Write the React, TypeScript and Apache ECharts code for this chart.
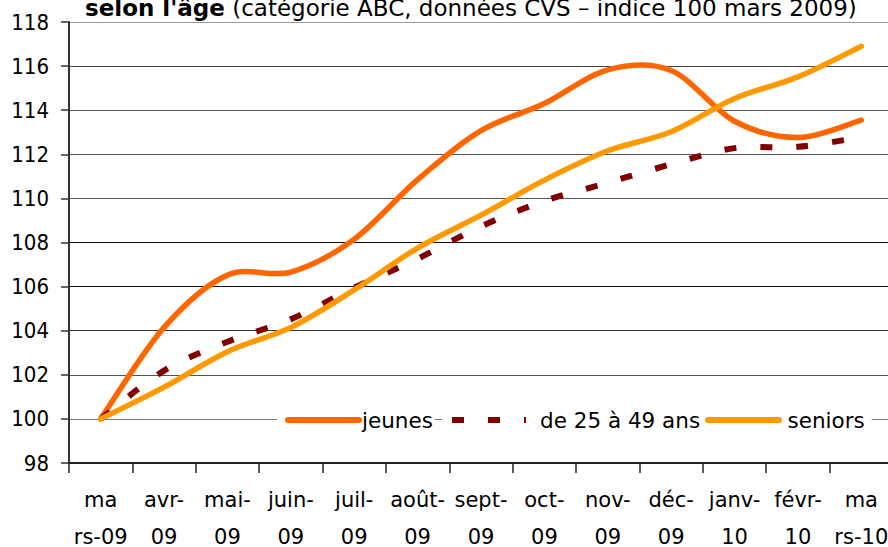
import React, { useEffect, useRef } from 'react';
import * as echarts from 'echarts';

const categories = [
  'ma\nrs-09', 'avr-\n09', 'mai-\n09', 'juin-\n09', 'juil-\n09', 'août-\n09', 'sept-\n09',
  'oct-\n09', 'nov-\n09', 'déc-\n09', 'janv-\n10', 'févr-\n10', 'ma\nrs-10',
];
const jeunes = [100, 104.15, 106.52, 106.66, 108.15, 110.85, 113.07, 114.3, 115.83, 115.8, 113.5, 112.76, 113.55];
const adultes = [100, 102.19, 103.5, 104.52, 105.95, 107.26, 108.73, 109.88, 110.71, 111.55, 112.28, 112.34, 112.78];
const seniors = [100, 101.44, 103.05, 104.15, 105.85, 107.75, 109.24, 110.83, 112.16, 113.02, 114.53, 115.51, 116.9];
const seriesNames = ['jeunes', 'de 25 à 49 ans', 'seniors'];
const yMin = 98;
const yMax = 118;
const yStep = 2;

const FONT = '"DejaVu Sans", Verdana, sans-serif';
const FONT_C = '"DejaVu Sans Condensed", "DejaVu Sans", sans-serif';

// Smoothed path (Catmull-Rom style Bezier, like a spreadsheet "smoothed line"),
// built from the pixel coordinates that the axes give for each data point.
function smoothPath(api: any, values: number[]): string {
  const pts = values.map((v, i) => api.coord([i, v]));
  let d = `M${pts[0][0]},${pts[0][1]}`;
  for (let i = 0; i < pts.length - 1; i++) {
    const p0 = pts[i - 1] || pts[i];
    const p1 = pts[i];
    const p2 = pts[i + 1];
    const p3 = pts[i + 2] || pts[i + 1];
    const c1x = p1[0] + (p2[0] - p0[0]) / 6;
    const c1y = p1[1] + (p2[1] - p0[1]) / 6;
    const c2x = p2[0] - (p3[0] - p1[0]) / 6;
    const c2y = p2[1] - (p3[1] - p1[1]) / 6;
    d += ` C${c1x},${c1y} ${c2x},${c2y} ${p2[0]},${p2[1]}`;
  }
  return d;
}

function makeSeries(name: string, values: number[], color: string, width: number, dash: number[] | null) {
  return {
    type: 'custom',
    name,
    data: values.map((v, i) => [i, v]),
    encode: { x: 0, y: 1 },
    itemStyle: { color },
    clip: false,
    renderItem: (params: any, api: any) => {
      if (params.dataIndex !== 0) return null;
      return {
        type: 'path',
        shape: { pathData: smoothPath(api, values) },
        style: {
          fill: 'none',
          stroke: color,
          lineWidth: width,
          lineCap: dash ? 'butt' : 'round',
          lineJoin: 'round',
          lineDash: dash || undefined,
        },
      };
    },
  };
}

const solidIcon = 'path://M3,0L74,0Q77,0 77,3Q77,6 74,6L3,6Q0,6 0,3Q0,0 3,0Z';
const dashIcon = 'path://M0,0L12,0L12,6L0,6Z M36,0L48,0L48,6L36,6Z M72,0L74,0L74,6L72,6Z';

function legendBox(name: string, icon: string, left: number, pl: number, pr: number, itemWidth: number, textPad: number, textWidth: number) {
  return {
    show: true,
    left,
    top: 405,
    orient: 'horizontal',
    backgroundColor: '#fff',
    padding: [4, pr, 4, pl],
    itemWidth,
    itemHeight: 6,
    itemGap: 0,
    selectedMode: false,
    textStyle: {
      fontSize: 21.5,
      fontFamily: FONT,
      color: '#000',
      padding: [0, 0, 0, textPad],
      width: textWidth,
      overflow: 'none',
    },
    data: [{ name, icon }],
  };
}

export default function App() {
  const ref = useRef<HTMLDivElement>(null);
  useEffect(() => {
    document.body.style.margin = '0';
    const chart = echarts.init(ref.current!, null, { renderer: 'svg' });
    chart.setOption({
      animation: false,
      backgroundColor: '#fff',
      title: {
        text: "{b|selon l'âge} (catégorie ABC, données CVS – indice 100 mars 2009)",
        left: 85,
        top: -4,
        padding: 0,
        textStyle: {
          fontSize: 23,
          fontFamily: FONT,
          fontWeight: 'normal',
          color: '#000',
          rich: { b: { fontSize: 23, fontFamily: FONT, fontWeight: 'bold', color: '#000' } },
        },
      },
      grid: { left: 69, top: 22, width: 824, height: 441, containLabel: false, outerBoundsMode: 'none' },
      xAxis: {
        type: 'category',
        data: categories,
        boundaryGap: true,
        axisLine: { show: true, lineStyle: { color: '#222', width: 2 } },
        axisTick: { show: true, length: 10, lineStyle: { color: '#222', width: 1.5 } },
        axisLabel: { interval: 0, fontSize: 21, fontFamily: FONT, color: '#000', lineHeight: 37, margin: 18 },
        splitLine: { show: false },
      },
      yAxis: {
        type: 'value',
        min: yMin,
        max: yMax,
        interval: yStep,
        axisLine: { show: true, lineStyle: { color: '#333', width: 2 } },
        axisTick: { show: true, length: 8, lineStyle: { color: '#333', width: 1.5 } },
        axisLabel: { fontSize: 22, fontFamily: FONT_C, color: '#000', margin: 20 },
        splitLine: {
          lineStyle: {
            width: 1,
            color: ['#222', '#777', '#555', '#333', '#111', '#111', '#555', '#555', '#555', '#444', '#999'],
          },
        },
      },
      legend: [
        legendBox(seriesNames[0], solidIcon, 277, 8, 2, 77, -5, 78),
        legendBox(seriesNames[1], dashIcon, 442, 10, 2, 74, 9, 155),
        legendBox(seriesNames[2], solidIcon, 697, 8, 7, 78, 0, 77),
      ],
      series: [
        makeSeries(seriesNames[0], jeunes, '#FF6600', 5.5, null),
        makeSeries(seriesNames[1], adultes, '#800000', 6, [12, 24]),
        makeSeries(seriesNames[2], seniors, '#FF9900', 5.5, null),
      ],
    });
    return () => chart.dispose();
  }, []);
  return <div ref={ref} style={{ width: 888, height: 547 }} />;
}
